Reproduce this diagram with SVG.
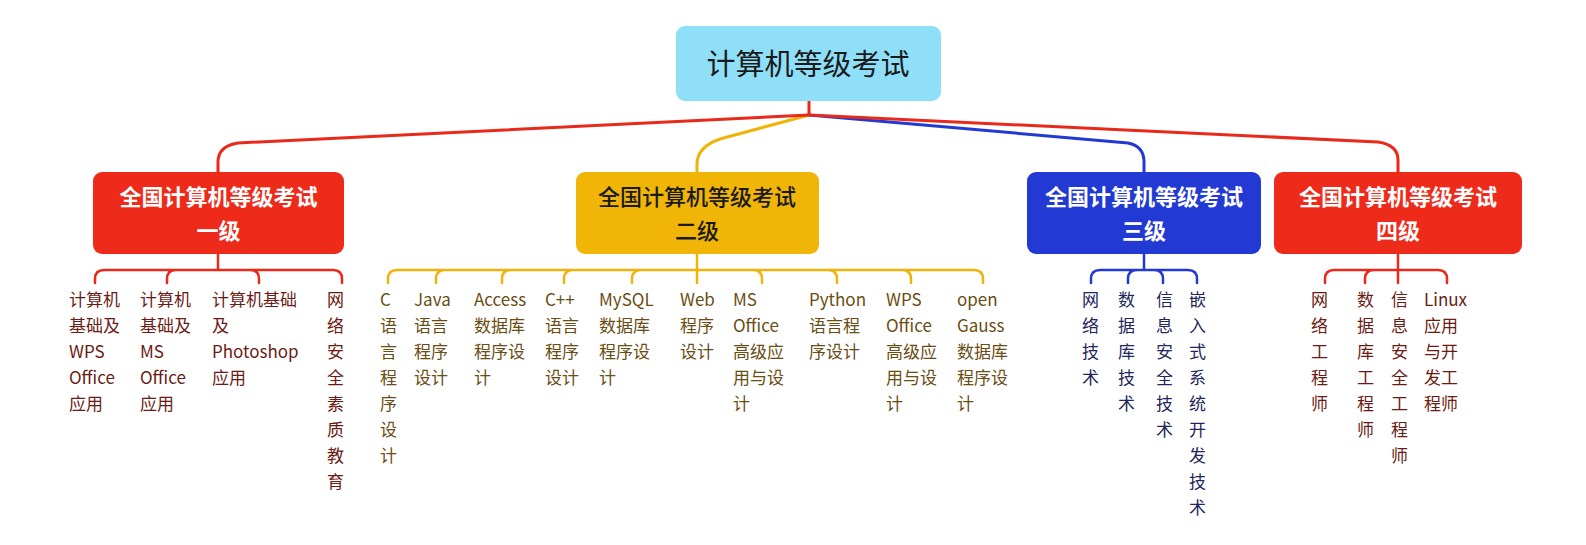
<svg xmlns="http://www.w3.org/2000/svg" width="1586" height="545" viewBox="0 0 1586 545">
<style>
.root{fill:#8fdff8}
.rt{font-family:"Noto Sans CJK SC","Noto Sans",sans-serif;font-size:29px;fill:#1a1a1a;text-anchor:middle}
.l1{font-family:"Noto Sans CJK SC","Noto Sans",sans-serif;font-size:22px;font-weight:bold;text-anchor:middle}
.l1n{font-weight:500}
.lf{font-family:"Noto Sans CJK SC","Noto Sans",sans-serif;font-size:17px}
.c{fill:none;stroke-linecap:round;stroke-linejoin:round}
.c1{stroke-width:3}
.c2{stroke-width:2.5}
.red{stroke:#e8291b}
.yel{stroke:#efb40a}
.blu{stroke:#2239d3}
.tr{fill:#6b1b14}
.ty{fill:#6a4d12}
.tb{fill:#23265c}
</style>
<g id="connectors">
  <path class="c c1 blu" d="M809,115 L1128,143 Q1144,146 1144,162 V172"/>
  <path class="c c1 yel" d="M809,115 L720,139 Q697,147 697,164 V172"/>
  <path class="c c1 red" d="M809,101 V115 L1378,142 Q1398,145 1398,160 V172"/>
  <path class="c c1 red" d="M809,115 L238,143 Q218,146 218,162 V172"/>
  <path class="c c2 red" d="M218,254 V270 M218,270 H104 Q95,270 95,279 V283 M218,270 H176 Q167,270 167,279 V283 M218,270 H250 Q259,270 259,279 V283 M218,270 H333 Q342,270 342,279 V283"/>
  <path class="c c2 yel" d="M697,254 V283 M697,270 H397 Q388,270 388,279 V283 M697,270 H445 Q436,270 436,279 V283 M697,270 H511 Q502,270 502,279 V283 M697,270 H573 Q564,270 564,279 V283 M697,270 H641 Q632,270 632,279 V283 M697,270 H753 Q762,270 762,279 V283 M697,270 H828 Q837,270 837,279 V283 M697,270 H902 Q911,270 911,279 V283 M697,270 H974 Q983,270 983,279 V283"/>
  <path class="c c2 blu" d="M1144,254 V270 M1144,270 H1100 Q1091,270 1091,279 V283 M1144,270 H1137 Q1128,270 1128,279 V283 M1144,270 H1154 Q1163,270 1163,279 V283 M1144,270 H1188 Q1197,270 1197,279 V283"/>
  <path class="c c2 red" d="M1398,254 V283 M1398,270 H1334 Q1325,270 1325,279 V283 M1398,270 H1374 Q1365,270 1365,279 V283 M1398,270 H1438 Q1447,270 1447,279 V283"/>
</g>
<g id="root">
  <rect class="root" x="676" y="26" width="265" height="75" rx="9"/>
  <text class="rt" x="808" y="75">计算机等级考试</text>
</g>
<g id="level1">
  <rect x="93" y="172" width="251" height="82" rx="9" fill="#ee2a1a"/>
  <text class="l1" fill="#ffffff" x="218.5" y="205">全国计算机等级考试<tspan x="218.5" dy="34">一级</tspan></text>
</g>
<g id="level2">
  <rect x="576" y="172" width="243" height="82" rx="9" fill="#f0b507"/>
  <text class="l1 l1n" fill="#1a1a1a" x="697" y="205">全国计算机等级考试<tspan x="697" dy="34">二级</tspan></text>
</g>
<g id="level3">
  <rect x="1027" y="172" width="234" height="82" rx="9" fill="#2239d3"/>
  <text class="l1" fill="#ffffff" x="1144" y="205">全国计算机等级考试<tspan x="1144" dy="34">三级</tspan></text>
</g>
<g id="level4">
  <rect x="1274" y="172" width="248" height="82" rx="9" fill="#ee2a1a"/>
  <text class="l1" fill="#ffffff" x="1398" y="205">全国计算机等级考试<tspan x="1398" dy="34">四级</tspan></text>
</g>
<g id="leaves-1">
  <text class="lf tr" x="69" y="306">计算机<tspan x="69" dy="26">基础及</tspan><tspan x="69" dy="26">WPS</tspan><tspan x="69" dy="26">Office</tspan><tspan x="69" dy="26">应用</tspan></text>
  <text class="lf tr" x="140" y="306">计算机<tspan x="140" dy="26">基础及</tspan><tspan x="140" dy="26">MS</tspan><tspan x="140" dy="26">Office</tspan><tspan x="140" dy="26">应用</tspan></text>
  <text class="lf tr" x="212" y="306">计算机基础<tspan x="212" dy="26">及</tspan><tspan x="212" dy="26">Photoshop</tspan><tspan x="212" dy="26">应用</tspan></text>
  <text class="lf tr" x="327" y="306">网<tspan x="327" dy="26">络</tspan><tspan x="327" dy="26">安</tspan><tspan x="327" dy="26">全</tspan><tspan x="327" dy="26">素</tspan><tspan x="327" dy="26">质</tspan><tspan x="327" dy="26">教</tspan><tspan x="327" dy="26">育</tspan></text>
</g>
<g id="leaves-2">
  <text class="lf ty" x="380" y="306">C<tspan x="380" dy="26">语</tspan><tspan x="380" dy="26">言</tspan><tspan x="380" dy="26">程</tspan><tspan x="380" dy="26">序</tspan><tspan x="380" dy="26">设</tspan><tspan x="380" dy="26">计</tspan></text>
  <text class="lf ty" x="414" y="306">Java<tspan x="414" dy="26">语言</tspan><tspan x="414" dy="26">程序</tspan><tspan x="414" dy="26">设计</tspan></text>
  <text class="lf ty" x="474" y="306">Access<tspan x="474" dy="26">数据库</tspan><tspan x="474" dy="26">程序设</tspan><tspan x="474" dy="26">计</tspan></text>
  <text class="lf ty" x="545" y="306">C++<tspan x="545" dy="26">语言</tspan><tspan x="545" dy="26">程序</tspan><tspan x="545" dy="26">设计</tspan></text>
  <text class="lf ty" x="599" y="306">MySQL<tspan x="599" dy="26">数据库</tspan><tspan x="599" dy="26">程序设</tspan><tspan x="599" dy="26">计</tspan></text>
  <text class="lf ty" x="680" y="306">Web<tspan x="680" dy="26">程序</tspan><tspan x="680" dy="26">设计</tspan></text>
  <text class="lf ty" x="733" y="306">MS<tspan x="733" dy="26">Office</tspan><tspan x="733" dy="26">高级应</tspan><tspan x="733" dy="26">用与设</tspan><tspan x="733" dy="26">计</tspan></text>
  <text class="lf ty" x="809" y="306">Python<tspan x="809" dy="26">语言程</tspan><tspan x="809" dy="26">序设计</tspan></text>
  <text class="lf ty" x="886" y="306">WPS<tspan x="886" dy="26">Office</tspan><tspan x="886" dy="26">高级应</tspan><tspan x="886" dy="26">用与设</tspan><tspan x="886" dy="26">计</tspan></text>
  <text class="lf ty" x="957" y="306">open<tspan x="957" dy="26">Gauss</tspan><tspan x="957" dy="26">数据库</tspan><tspan x="957" dy="26">程序设</tspan><tspan x="957" dy="26">计</tspan></text>
</g>
<g id="leaves-3">
  <text class="lf tb" x="1082" y="306">网<tspan x="1082" dy="26">络</tspan><tspan x="1082" dy="26">技</tspan><tspan x="1082" dy="26">术</tspan></text>
  <text class="lf tb" x="1118" y="306">数<tspan x="1118" dy="26">据</tspan><tspan x="1118" dy="26">库</tspan><tspan x="1118" dy="26">技</tspan><tspan x="1118" dy="26">术</tspan></text>
  <text class="lf tb" x="1156" y="306">信<tspan x="1156" dy="26">息</tspan><tspan x="1156" dy="26">安</tspan><tspan x="1156" dy="26">全</tspan><tspan x="1156" dy="26">技</tspan><tspan x="1156" dy="26">术</tspan></text>
  <text class="lf tb" x="1189" y="306">嵌<tspan x="1189" dy="26">入</tspan><tspan x="1189" dy="26">式</tspan><tspan x="1189" dy="26">系</tspan><tspan x="1189" dy="26">统</tspan><tspan x="1189" dy="26">开</tspan><tspan x="1189" dy="26">发</tspan><tspan x="1189" dy="26">技</tspan><tspan x="1189" dy="26">术</tspan></text>
</g>
<g id="leaves-4">
  <text class="lf tr" x="1311" y="306">网<tspan x="1311" dy="26">络</tspan><tspan x="1311" dy="26">工</tspan><tspan x="1311" dy="26">程</tspan><tspan x="1311" dy="26">师</tspan></text>
  <text class="lf tr" x="1357" y="306">数<tspan x="1357" dy="26">据</tspan><tspan x="1357" dy="26">库</tspan><tspan x="1357" dy="26">工</tspan><tspan x="1357" dy="26">程</tspan><tspan x="1357" dy="26">师</tspan></text>
  <text class="lf tr" x="1391" y="306">信<tspan x="1391" dy="26">息</tspan><tspan x="1391" dy="26">安</tspan><tspan x="1391" dy="26">全</tspan><tspan x="1391" dy="26">工</tspan><tspan x="1391" dy="26">程</tspan><tspan x="1391" dy="26">师</tspan></text>
  <text class="lf tr" x="1424" y="306">Linux<tspan x="1424" dy="26">应用</tspan><tspan x="1424" dy="26">与开</tspan><tspan x="1424" dy="26">发工</tspan><tspan x="1424" dy="26">程师</tspan></text>
</g>
</svg>
